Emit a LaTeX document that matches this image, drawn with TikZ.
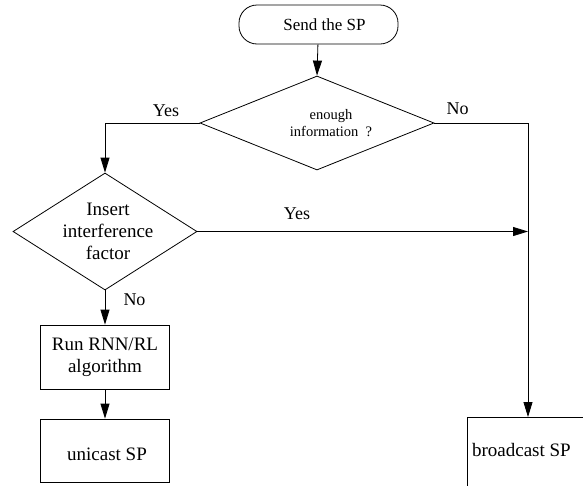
\documentclass[tikz,border=0pt]{standalone}
\usepackage{fontspec}
\setmainfont{Liberation Serif}
\usetikzlibrary{shapes.geometric,arrows.meta}
\begin{document}
\begin{tikzpicture}[x=1pt,y=-1pt,
  ln/.style={line width=0.8pt},
  arr/.style={line width=0.8pt,-{Triangle[length=15pt,width=9pt]}},
  big/.style={font=\fontsize{19}{22}\selectfont},
  box/.style={draw, line width=0.8pt, inner sep=0pt, align=center, big},
  dec/.style={diamond, draw, line width=0.8pt, inner sep=0pt, align=center},
  term/.style={draw, line width=0.8pt, rounded corners=18pt, inner sep=0pt,
    minimum width=159pt, minimum height=39pt},
  lab/.style={font=\fontsize{18}{20}\selectfont, inner sep=0pt}]
\useasboundingbox (0,0) rectangle (583,485);
\clip (0,0) rectangle (583,485);
\node[term, label={[xshift=6pt,font=\fontsize{17}{20}\selectfont]center:Send the SP}] (start) at (318.5,24.5) {};
\node[dec, minimum width=234pt, minimum height=94pt,
  label={[xshift=14pt,align=center,font=\fontsize{14.5}{17}\selectfont]center:enough\\information\ \ ?}] (d1) at (317,123) {};
\node[dec, minimum width=184pt, minimum height=117pt,
  label={[xshift=3pt,align=center,big]center:Insert\\interference\\factor}] (d2) at (105,231.5) {};
\node[box, minimum width=129pt, minimum height=64pt] (r1) at (105,357) {Run RNN/RL\\algorithm};
\node[box, minimum width=129pt, minimum height=63pt,
  label={[xshift=2pt,yshift=-3.5pt,big]center:unicast SP}] (u1) at (105,450.5) {};
\node[box, minimum width=160pt, minimum height=90pt, anchor=north west,
  label={[xshift=-26pt,yshift=12pt,big]center:broadcast SP}] (b3) at (467,417) {};
\coordinate (bt) at (528,417);
\coordinate (j) at (bt |- d2.east);
\draw[arr] (start) -- (d1.north);
\draw[arr] (d1.west) -| (d2.north);
\draw[arr] (d1.east) -| (bt);
\draw[arr] (d2.east) -- (j);
\draw[arr] (d2.south) -- (r1.north);
\draw[arr] (r1.south) -- (u1.north);
\node[lab] (yes1) at (166,110.5) {Yes};
\node[lab] (no1) at (457.5,109) {No};
\node[lab] (yes2) at (297,214) {Yes};
\node[lab] (no2) at (134.5,299.5) {No};
\end{tikzpicture}
\end{document}
